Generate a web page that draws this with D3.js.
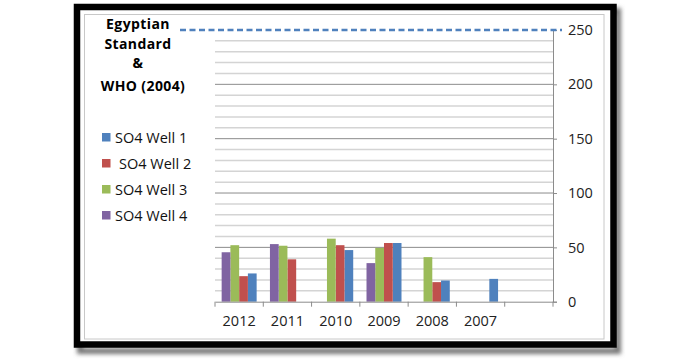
<!DOCTYPE html>
<html>
<head>
<meta charset="utf-8">
<script src="https://cdn.jsdelivr.net/npm/d3@7"></script>
<style>
  body { margin: 0; background: #fff; }
  svg { display: block; font-family: "Open Sans", "Liberation Sans", sans-serif; }
</style>
</head>
<body>
<div id="chart"></div>
<script>
// categories (x axis reversed like the original, last slot is empty)
const years = ["2012", "2011", "2010", "2009", "2008", "2007", ""];
// SO4 values per well, null = no bar
const well1 = [26, null, 47.5, 54, 19.5, 21, null];
const well2 = [23.5, 39, 52, 54, 18, null, null];
const well3 = [52, 51.5, 58, 49.5, 41, null, null];
const well4 = [45.5, 53, null, 35.5, null, null, null];
const yTicks = [0, 50, 100, 150, 200, 250];
const standard = 250; // Egyptian Standard & WHO (2004)

const series = [
  { name: "SO4 Well 1", key: "w1", values: well1, color: "#4F81BD" },
  { name: "SO4 Well 2", key: "w2", values: well2, color: "#C0504D" },
  { name: "SO4 Well 3", key: "w3", values: well3, color: "#9BBB59" },
  { name: "SO4 Well 4", key: "w4", values: well4, color: "#8064A2" }
];

function draw_chart() {
  const width = 700, height = 362;
  const svg = d3.select("#chart").append("svg")
    .attr("width", width)
    .attr("height", height);

  svg.append("rect").attr("width", width).attr("height", height).attr("fill", "#fff");

  // shadow + black frame
  const defs = svg.append("defs");
  defs.append("filter").attr("id", "blur")
    .append("feGaussianBlur").attr("stdDeviation", 2);
  svg.append("rect")
    .attr("x", 80).attr("y", 11).attr("width", 538).attr("height", 340)
    .attr("fill", "none").attr("stroke", "#777").attr("stroke-width", 6)
    .attr("filter", "url(#blur)");
  svg.append("rect")
    .attr("x", 77).attr("y", 7).attr("width", 536.5).attr("height", 337.5)
    .attr("fill", "#fff").attr("stroke", "#000").attr("stroke-width", 6.5);

  // chart area border
  svg.append("rect")
    .attr("x", 84.5).attr("y", 14.5).attr("width", 519.5).attr("height", 324.5)
    .attr("fill", "#fff").attr("stroke", "#c8c8c8").attr("stroke-width", 1);

  const x = d3.scaleBand().domain(years).range([215, 553]).padding(0);
  const inner = d3.scaleBand().domain(["w4", "w3", "w2", "w1"])
    .range([0, x.bandwidth()]).paddingInner(0).paddingOuter(0.76);
  const y = d3.scaleLinear().domain([0, 250]).range([301.7, 30]);

  // gridlines: minor every 10, major every 50
  const grid = svg.append("g");
  grid.selectAll("line.minor")
    .data(d3.range(10, 250, 10).filter(v => v % 50 !== 0))
    .join("line")
    .attr("x1", 215).attr("x2", 553)
    .attr("y1", d => y(d)).attr("y2", d => y(d))
    .attr("stroke", "#d4d4d4").attr("stroke-width", 1.5);
  grid.selectAll("line.major")
    .data(yTicks.filter(v => v > 0 && v < 250))
    .join("line")
    .attr("x1", 215).attr("x2", 553)
    .attr("y1", d => y(d)).attr("y2", d => y(d))
    .attr("stroke", "#8c8c8c").attr("stroke-width", 1);

  // bars
  const bars = svg.append("g");
  series.forEach(s => {
    bars.selectAll(null)
      .data(years.map((yr, i) => ({ yr, v: s.values[i] })).filter(d => d.v != null))
      .join("rect")
      .attr("x", d => x(d.yr) + inner(s.key))
      .attr("width", inner.bandwidth())
      .attr("y", d => y(d.v))
      .attr("height", d => y(0) - y(d.v))
      .attr("fill", s.color);
  });

  // right y axis
  const yAxis = svg.append("g")
    .attr("transform", "translate(553,0)")
    .call(d3.axisRight(y).tickValues(yTicks).tickSize(4).tickPadding(11));
  yAxis.select(".domain").attr("stroke", "#8c8c8c");
  yAxis.selectAll(".tick line").attr("stroke", "#8c8c8c");
  yAxis.selectAll(".tick text")
    .attr("font-size", 14.5).attr("fill", "#222")
    .attr("font-family", "'Open Sans', sans-serif");

  // bottom x axis
  const xAxis = svg.append("g")
    .attr("transform", `translate(0,${y(0)})`)
    .call(d3.axisBottom(x).tickSize(0).tickPadding(14));
  xAxis.select(".domain").attr("stroke", "#8c8c8c");
  xAxis.selectAll(".tick text")
    .attr("font-size", 14.5).attr("fill", "#222")
    .attr("font-family", "'Open Sans', sans-serif");
  xAxis.selectAll("line.sep")
    .data(d3.range(years.length + 1))
    .join("line")
    .attr("x1", i => 215 + i * x.step()).attr("x2", i => 215 + i * x.step())
    .attr("y1", 0).attr("y2", 5)
    .attr("stroke", "#8c8c8c");

  // standard line
  svg.append("line")
    .attr("x1", 180).attr("x2", 562)
    .attr("y1", y(standard)).attr("y2", y(standard))
    .attr("stroke", "#4F81BD").attr("stroke-width", 2.5)
    .attr("stroke-dasharray", "6,3.5");

  // title block
  const title = ["Egyptian", "Standard", "&", "WHO (2004)"];
  const titleY = [24.5, 44, 63.5, 86];
  svg.append("g").selectAll("text")
    .data(title)
    .join("text")
    .attr("x", (d, i) => i === 3 ? 143 : 138)
    .attr("y", (d, i) => titleY[i])
    .attr("dy", "0.35em")
    .attr("text-anchor", "middle")
    .attr("font-weight", "bold")
    .attr("font-size", 14)
    .attr("letter-spacing", 0.4)
    .attr("fill", "#000")
    .text(d => d);

  // legend
  const legend = svg.append("g").selectAll("g")
    .data(series)
    .join("g")
    .attr("transform", (d, i) => `translate(102,${137.5 + i * 26})`);
  legend.append("rect")
    .attr("x", 0).attr("y", -4.5).attr("width", 8.5).attr("height", 8.5)
    .attr("fill", d => d.color);
  legend.append("text")
    .attr("x", (d, i) => i === 1 ? 17 : 13)
    .attr("dy", "0.35em")
    .attr("font-size", 14.5)
    .attr("fill", "#111")
    .text(d => d.name);
}
draw_chart();
</script>
</body>
</html>
